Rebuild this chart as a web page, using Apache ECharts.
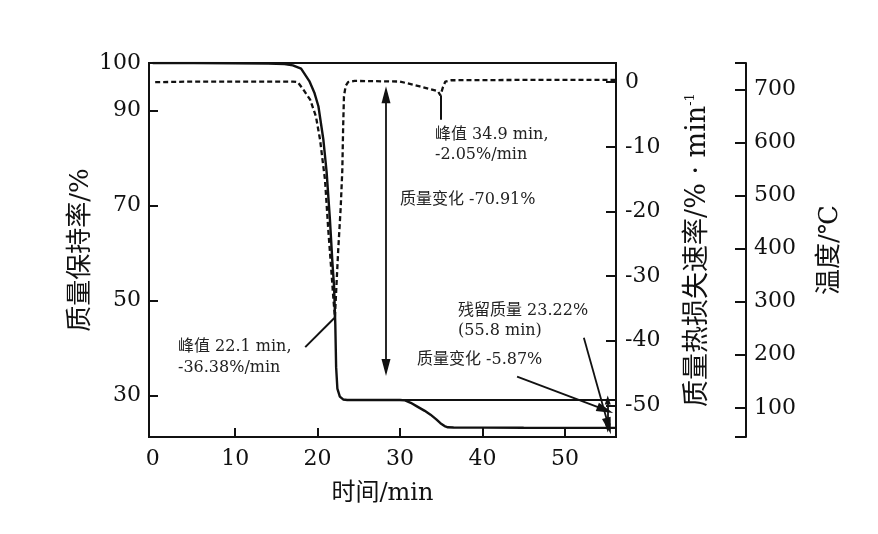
<!DOCTYPE html>
<html>
<head>
<meta charset="utf-8">
<title>TG-DTG</title>
<script src="https://cdn.jsdelivr.net/npm/echarts@6/dist/echarts.min.js"></script>
<style>
html, body { margin: 0; padding: 0; background: #fff; }
#chart { width: 878px; height: 534px; }
</style>
</head>
<body>
<div id="chart"></div>
<script>
// 质量保持率 (TG)
var tgTime = [0, 5, 10, 14, 16, 17, 18, 19, 19.6, 20.1, 20.7, 21.1, 21.5, 21.8, 22.0, 22.15, 22.25, 22.4, 22.7, 23.1, 23.6, 26, 30, 30.6, 31.3, 32.1, 33.0, 33.7, 34.4, 34.9, 35.4, 35.8, 36.5, 40, 45, 50, 55.8, 56.2]
var tgMass = [100, 100, 99.95, 99.9, 99.8, 99.5, 98.8, 96.2, 93.8, 90.9, 83.9, 77, 67, 58, 53, 45, 36, 31.5, 29.8, 29.2, 29.09, 29.09, 29.09, 29.0, 28.5, 27.7, 26.8, 26.0, 25.0, 24.2, 23.6, 23.35, 23.3, 23.28, 23.25, 23.23, 23.22, 23.22]
// 质量热损失速率 (DTG)
var dtgTime = [0.3, 5, 10, 15, 17, 17.6, 18.3, 19.1, 19.8, 20.3, 20.6, 20.9, 21.3, 21.6, 21.9, 22.1, 22.5, 22.8, 23.0, 23.1, 23.2, 23.4, 23.7, 24.5, 30, 32.4, 34.6, 34.9, 35.2, 35.5, 36.2, 45, 56.2]
var dtgRate = [0, 0.1, 0.1, 0.1, 0.1, 0, -1.2, -2.7, -5.3, -8.9, -12, -15.1, -22.9, -28, -33.2, -36.38, -26, -19.5, -13.6, -7, -2.2, -0.6, 0, 0.2, 0.1, -0.65, -1.4, -2.05, -0.8, 0.1, 0.3, 0.35, 0.35]
// 第一阶段结束后的平台线
var levelTime = [23.6, 56.2]
var levelMass = [29.09, 29.09]

var timeTicks = [0, 10, 20, 30, 40, 50]
var massTicks = [30, 50, 70, 90, 100]
var rateTicks = [0, -10, -20, -30, -40, -50]
var tempTicks = [100, 200, 300, 400, 500, 600, 700]

// 标注用的箭头和引线 (数据坐标)
var bigArrow = [[28.3, 93.3], [28.3, 35.9]]
var residualArrow = [[52.3, 42.2], [55.3, 23.6]]
var changeArrow = [[44.2, 34.0], [54.9, 27.0]]
var smallArrow = [[55.2, 29.09], [55.2, 23.22]]
var peak1Leader = [[18.5, -41.0], [22.1, -36.4]]
var peak2Leader = [[34.9, -2.05], [34.9, -5.8]]

function pairs (xs, ys) {
  return xs.map(function (x, i) { return [x, ys[i]] })
}

var serif = '"DejaVu Serif", "Noto Sans CJK SC", serif'
var ink = '#111'
var noteFont = '16px ' + serif

function axisName (size) {
  return { color: ink, fontSize: size, fontFamily: serif }
}

var option = {
  animation: false,
  backgroundColor: '#fff',
  grid: {
    left: 149, right: 262, top: 63, bottom: 97,
    show: true, borderColor: ink, borderWidth: 2,
    outerBoundsMode: 'none'
  },
  xAxis: {
    type: 'value',
    min: -0.45,
    max: 56.2,
    name: '时间/min',
    nameLocation: 'middle',
    nameGap: 45,
    nameTextStyle: axisName(24),
    axisLine: { onZero: false, lineStyle: { color: ink, width: 2 } },
    axisTick: { inside: true, length: 9, customValues: timeTicks.slice(1), lineStyle: { color: ink, width: 2 } },
    axisLabel: { customValues: timeTicks, color: ink, fontSize: 22, fontFamily: serif, margin: 11 },
    splitLine: { show: false }
  },
  yAxis: [
    {
      type: 'value',
      position: 'left',
      min: 21.3,
      max: 100,
      name: '质量保持率/%',
      nameLocation: 'middle',
      nameGap: 55,
      nameMoveOverlap: false,
      nameTextStyle: axisName(26),
      axisLine: { onZero: false, lineStyle: { color: ink, width: 2 } },
      axisTick: { inside: true, length: 9, customValues: massTicks, lineStyle: { color: ink, width: 2 } },
      axisLabel: { customValues: massTicks, color: ink, fontSize: 22, fontFamily: serif, margin: 8 },
      splitLine: { show: false }
    },
    {
      type: 'value',
      position: 'right',
      min: -54.9,
      max: 2.97,
      name: '质量热损失速率/% · min{sup|-1}',
      nameLocation: 'middle',
      nameGap: 68,
      nameTextStyle: Object.assign(axisName(27), {
        rich: { sup: { fontSize: 13, fontFamily: serif, color: ink, verticalAlign: 'top', padding: [0, 0, 14, 0] } }
      }),
      axisLine: { onZero: false, lineStyle: { color: ink, width: 2 } },
      axisTick: { inside: true, length: 10, customValues: rateTicks, lineStyle: { color: ink, width: 2 } },
      axisLabel: { customValues: rateTicks, color: ink, fontSize: 22, fontFamily: serif, margin: 9 },
      splitLine: { show: false }
    },
    {
      type: 'value',
      position: 'right',
      offset: 130,
      min: 45,
      max: 750,
      name: '温度/℃',
      nameLocation: 'middle',
      nameGap: 71,
      nameTextStyle: axisName(26),
      axisLine: { show: true, onZero: false, lineStyle: { color: ink, width: 2 } },
      axisTick: { show: true, inside: true, length: 11, customValues: [45].concat(tempTicks, [750]), lineStyle: { color: ink, width: 2 } },
      axisLabel: { customValues: tempTicks, color: ink, fontSize: 22, fontFamily: serif, margin: 8 },
      splitLine: { show: false }
    }
  ],
  series: [
    {
      name: '质量保持率',
      type: 'line',
      yAxisIndex: 0,
      data: pairs(tgTime, tgMass),
      showSymbol: false,
      lineStyle: { color: ink, width: 2.4 },
      markLine: {
        silent: true,
        animation: false,
        symbol: ['triangle', 'triangle'],
        symbolSize: [9, 17],
        label: { show: false },
        lineStyle: { color: ink, width: 1.8, type: 'solid' },
        data: [
          [{ coord: bigArrow[0] }, { coord: bigArrow[1] }],
          [{ coord: residualArrow[0], symbol: 'none' }, { coord: residualArrow[1], symbol: 'triangle' }],
          [{ coord: changeArrow[0], symbol: 'none' }, { coord: changeArrow[1], symbol: 'triangle' }],
          [{ coord: smallArrow[0], symbolSize: [6, 9] }, { coord: smallArrow[1], symbolSize: [6, 9] }]
        ]
      }
    },
    {
      name: '平台',
      type: 'line',
      yAxisIndex: 0,
      data: pairs(levelTime, levelMass),
      showSymbol: false,
      lineStyle: { color: ink, width: 2 }
    },
    {
      name: '质量热损失速率',
      type: 'line',
      yAxisIndex: 1,
      data: pairs(dtgTime, dtgRate),
      showSymbol: false,
      lineStyle: { color: ink, width: 2.3, type: [5, 3] },
      markLine: {
        silent: true,
        animation: false,
        symbol: ['none', 'none'],
        label: { show: false },
        lineStyle: { color: ink, width: 2, type: 'solid' },
        data: [
          [{ coord: peak1Leader[0] }, { coord: peak1Leader[1] }],
          [{ coord: peak2Leader[0] }, { coord: peak2Leader[1] }]
        ]
      }
    }
  ],
  graphic: [
    { type: 'text', left: 435, top: 125, style: { text: '峰值 34.9 min,\n-2.05%/min', font: noteFont, fill: '#222', lineHeight: 20 } },
    { type: 'text', left: 400, top: 192, style: { text: '质量变化 -70.91%', font: noteFont, fill: '#222' } },
    { type: 'text', left: 178, top: 336, style: { text: '峰值 22.1 min,\n-36.38%/min', font: noteFont, fill: '#222', lineHeight: 21 } },
    { type: 'text', left: 458, top: 301, style: { text: '残留质量 23.22%\n(55.8 min)', font: noteFont, fill: '#222', lineHeight: 20 } },
    { type: 'text', left: 417, top: 352, style: { text: '质量变化 -5.87%', font: noteFont, fill: '#222' } }
  ]
}

var myChart = echarts.init(document.getElementById('chart'))
myChart.setOption(option)
</script>
</body>
</html>
